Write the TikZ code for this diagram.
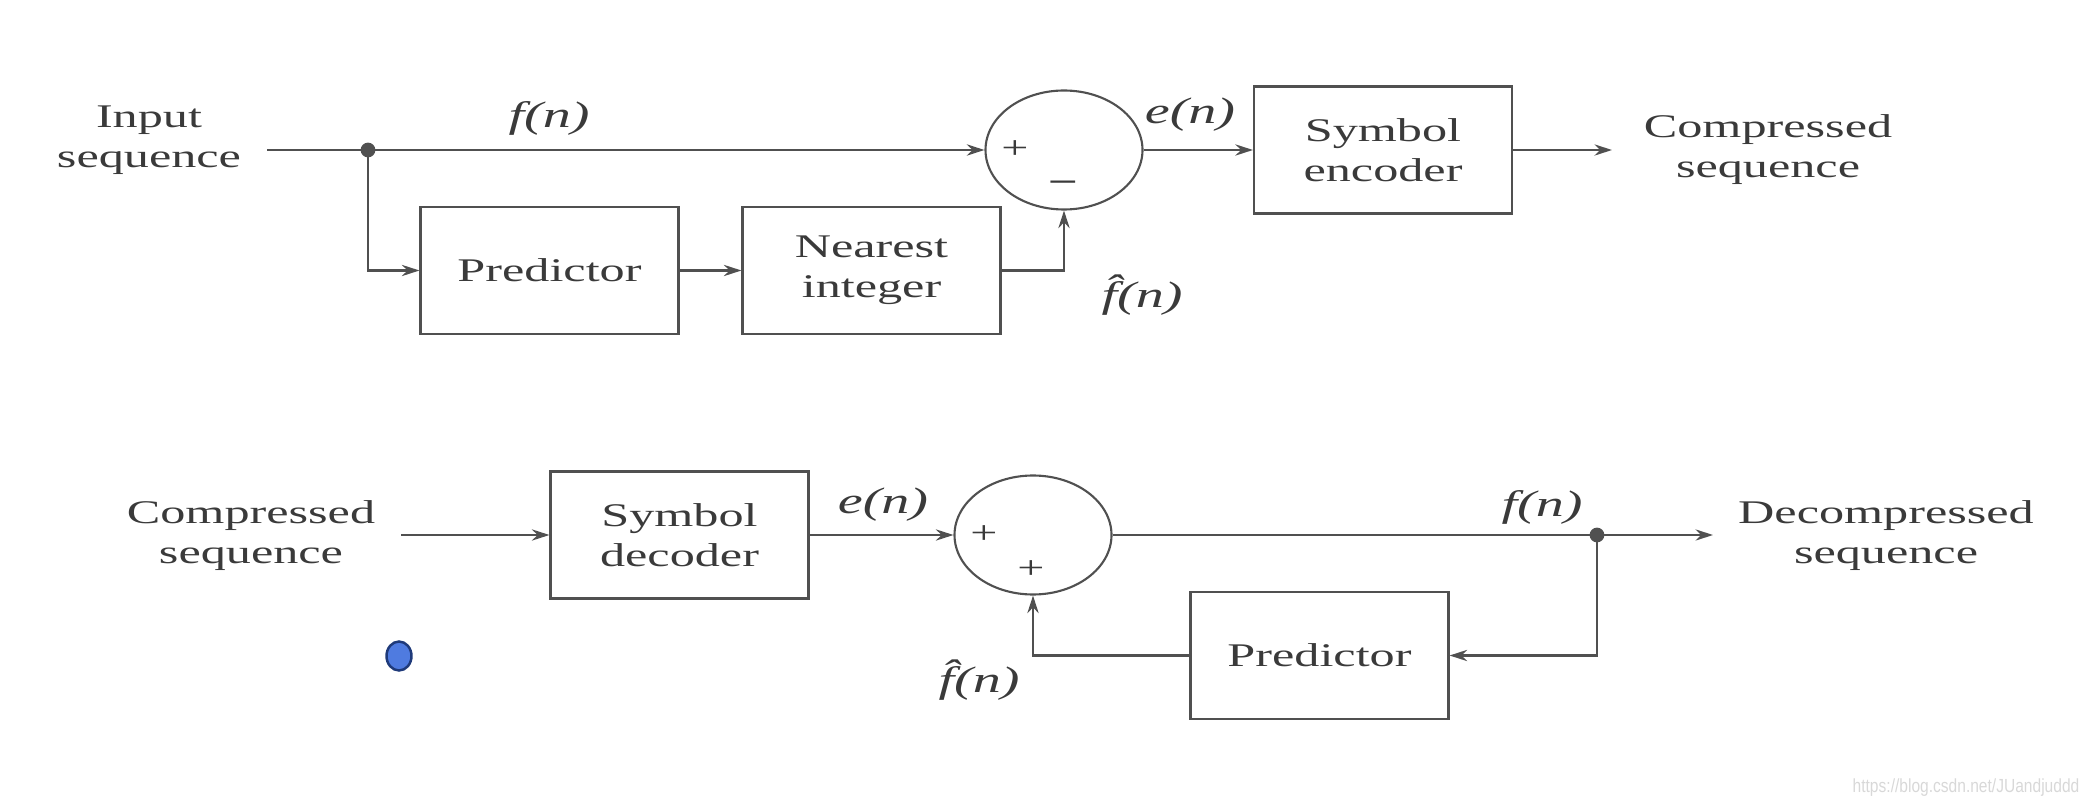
\documentclass[tikz,border=0pt]{standalone}
\usepackage{fontspec}
\setmainfont[FakeStretch=1.52]{Liberation Serif}
\newfontfamily\wmfont[FakeStretch=0.82]{Liberation Sans}
\usetikzlibrary{shapes.geometric,arrows.meta}
\definecolor{linec}{HTML}{505050}
\definecolor{txt}{HTML}{3A3A3A}
\definecolor{wm}{HTML}{D8D8D8}
\definecolor{bluedot}{HTML}{4F7BE0}
\definecolor{bluerim}{HTML}{1F3A7A}
\newcommand{\fhat}{\^{f}}
\tikzset{
  blk/.style={draw=linec, line width=0.6pt, minimum width=2.58cm, minimum height=1.27cm,
    inner sep=0pt, align=center, text=txt, font=\fontsize{9.4pt}{11.4pt}\selectfont},
  sumnode/.style={draw=linec, line width=0.6pt, ellipse, minimum width=1.57cm, minimum height=1.19cm, inner sep=0pt},
  txtnode/.style={align=center, text=txt, font=\fontsize{9.4pt}{11.4pt}\selectfont, inner sep=0pt},
  lbl/.style={text=txt, font=\fontsize{10.5pt}{12pt}\selectfont\itshape, inner sep=0pt},
  sgn/.style={text=txt, font=\fontsize{9pt}{10pt}\selectfont, inner sep=0pt},
  conn/.style={draw=linec, line width=0.6pt},
  arr/.style={conn, -{Stealth[length=5pt,width=3.2pt]}},
  junc/.style={circle, fill=linec, inner sep=0pt, minimum size=4.2pt},
}
\begin{document}
\begin{tikzpicture}
\useasboundingbox (0,0) rectangle (20.9,-8.06);
% ---------- top: encoder ----------
\node[txtnode] (inlbl) at (1.49,-1.40) {Input\\sequence};
\coordinate (in1) at (2.67,-1.50);
\node[junc] (dot1) at (3.68,-1.50) {};
\node[sumnode] (sum1) at (10.64,-1.50) {};
\node[blk] (pred1) at (5.495,-2.705) {Predictor};
\node[blk] (near) at (8.715,-2.705) {Nearest\\integer};
\node[blk] (enc) at (13.83,-1.50) {Symbol\\encoder};
\coordinate (out1) at (16.12,-1.50);
\node[txtnode] (outlbl1) at (17.68,-1.50) {Compressed\\sequence};

\draw[arr, line width=0.8pt] (in1) -- (sum1.west);
\draw[arr] (dot1.center) |- (pred1.west);
\draw[arr] (pred1.east) -- (near.west);
\draw[arr] (near.east) -| (sum1.south);
\draw[arr] (sum1.east) -- (enc.west);
\draw[arr] (enc.east) -- (out1);

\node[lbl] (lf1) at (5.49,-1.18) {f(n)};
\node[lbl] (le1) at (11.90,-1.15) {e(n)};
\node[lbl] (lfh1) at (11.42,-2.95) {\fhat(n)};
\node[sgn] (p1) at (10.15,-1.50) {+};
\node[sgn] (m1) at (10.63,-1.85) {\textbf{–}};

% ---------- bottom: decoder ----------
\node[txtnode] (inlbl2) at (2.51,-5.36) {Compressed\\sequence};
\coordinate (in2) at (4.01,-5.35);
\node[blk] (dec) at (6.795,-5.35) {Symbol\\decoder};
\node[sumnode] (sum2) at (10.33,-5.35) {};
\node[junc] (dot2) at (15.97,-5.35) {};
\coordinate (out2) at (17.13,-5.35);
\node[txtnode] (outlbl2) at (18.86,-5.36) {Decompressed\\sequence};
\node[blk] (pred2) at (13.195,-6.555) {Predictor};

\draw[arr] (in2) -- (dec.west);
\draw[arr] (dec.east) -- (sum2.west);
\draw[arr] (sum2.east) -- (out2);
\draw[arr] (dot2.center) |- (pred2.east);
\draw[arr] (pred2.west) -| (sum2.south);

\node[lbl] (le2) at (8.83,-5.05) {e(n)};
\node[lbl] (lf2) at (15.42,-5.07) {f(n)};
\node[lbl] (lfh2) at (9.79,-6.80) {\fhat(n)};
\node[sgn] (p2) at (9.84,-5.35) {+};
\node[sgn] (p3) at (10.31,-5.70) {+};

% ---------- extras ----------
\node[ellipse, draw=bluerim, line width=0.7pt, fill=bluedot, minimum width=0.25cm, minimum height=0.29cm, inner sep=0pt] (blue) at (3.99,-6.56) {};
\node[text=wm, font=\wmfont\fontsize{5.4pt}{6pt}\selectfont, inner sep=0pt] (wmark) at (19.66,-7.88) {https://blog.csdn.net/JUandjuddd};
\end{tikzpicture}
\end{document}
